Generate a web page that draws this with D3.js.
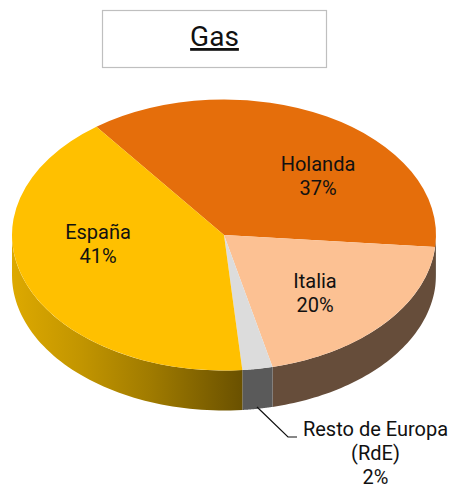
<!DOCTYPE html>
<html><head><meta charset="utf-8">
<style>html,body{margin:0;padding:0;background:#fff}svg{display:block}text{font-family:Roboto,sans-serif;fill:#111}</style>
<script src="https://cdnjs.cloudflare.com/ajax/libs/d3/7.8.5/d3.min.js"></script>
</head><body><svg id="c" width="452" height="486"></svg>
<script>
const categories=["Holanda","Italia","Resto de Europa (RdE)","España"];
const values=[36.7,19.9,2.3,41.1];
const colors=["#E56E0B","#FCC193","#DCDCDC","#FFC000"];
const title="Gas";

const W=452,H=486,cx=224,cy=235,rx=212,ry=135.5,depth=40;
const startDeg=-37;
const svg=d3.select("#c");
const pct=d3.format(".0f");
const defs=svg.append("defs");
const grad=defs.append("linearGradient").attr("id","wallEs").attr("gradientUnits","userSpaceOnUse")
 .attr("x1",cx-rx).attr("x2",cx+18).attr("y1",0).attr("y2",0);
[[0,"#DDA900"],[0.3,"#C29500"],[0.6,"#A07B00"],[1,"#6A5100"]].forEach(s=>grad.append("stop").attr("offset",s[0]).attr("stop-color",s[1]));
const wallFill=["#5c4a3a","#664D3A","#5A5A5A","url(#wallEs)"];

const pie=d3.pie().sort(null).value(d=>d)
 .startAngle(startDeg*Math.PI/180).endAngle((startDeg+360)*Math.PI/180);
const arcs=pie(values);
const px=a=>cx+rx*Math.sin(a), py=a=>cy-ry*Math.cos(a);

// walls: only the front half of the ellipse
const area=d3.area().x(a=>px(a)).y0(a=>py(a)).y1(a=>py(a)+depth);
const frontA=Math.PI/2, frontB=3*Math.PI/2;
svg.append("g").selectAll("path").data(arcs).join("path")
 .attr("d",d=>{
   const lo=Math.max(d.startAngle,frontA),hi=Math.min(d.endAngle,frontB);
   if(hi<=lo) return null;
   const n=60,samples=d3.range(n+1).map(i=>lo+(hi-lo)*i/n);
   return area(samples);
 })
 .attr("fill",(d,i)=>wallFill[i]);

// top surface
const arc=d3.arc().innerRadius(0).outerRadius(rx);
svg.append("g").attr("transform",`translate(${cx},${cy}) scale(1,${ry/rx})`)
 .selectAll("path").data(arcs).join("path").attr("d",arc).attr("fill",(d,i)=>colors[i]);

// title box
svg.append("rect").attr("x",102.5).attr("y",10.5).attr("width",224).attr("height",57)
 .attr("fill","#fff").attr("stroke","#BFBFBF").attr("stroke-width",1.2);
svg.append("text").attr("x",214.5).attr("y",46).attr("text-anchor","middle")
 .attr("font-size",28).attr("text-decoration","underline").text(title);

// labels
const lab=(x,y,lines)=>{
 const g=svg.append("text").attr("text-anchor","middle").attr("font-size",20);
 lines.forEach((l,i)=>g.append("tspan").attr("x",x).attr("y",y+i*24).text(l));
};
lab(318,171,[categories[0],pct(values[0])+"%"]);
lab(315,288,[categories[1],pct(values[1])+"%"]);
lab(98,239,[categories[3],pct(values[3])+"%"]);
lab(375.5,436,["Resto de Europa","(RdE)",pct(values[2])+"%"]);

// leader line
svg.append("path").attr("d",d3.line()([[257,407],[288,437],[297,437]]))
 .attr("fill","none").attr("stroke","#111").attr("stroke-width",1.2);
</script></body></html>
